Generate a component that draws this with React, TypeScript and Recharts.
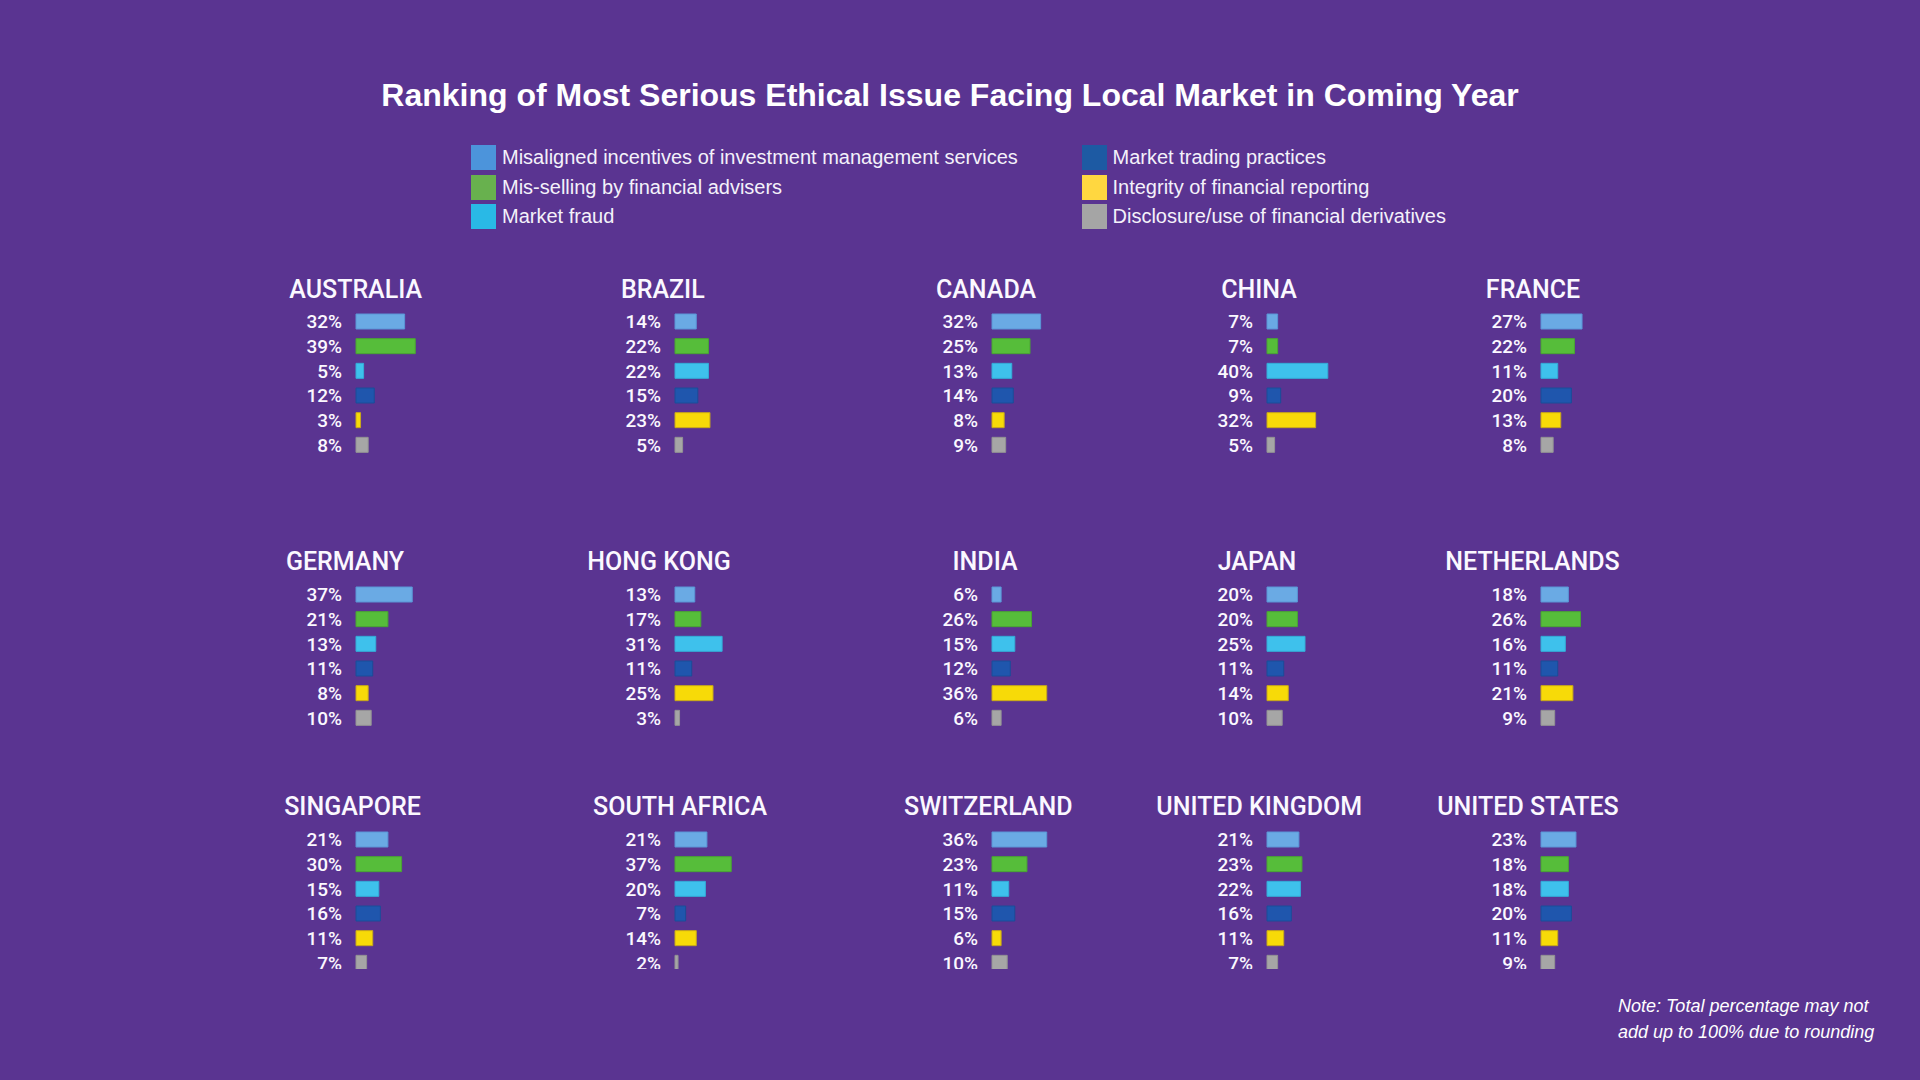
import React from 'react';
import { BarChart, Bar, XAxis, YAxis, Cell, LabelList } from 'recharts';

// Issues, in the order the bars are stacked in every panel
const ISSUES = [
  'Misaligned incentives of investment management services',
  'Mis-selling by financial advisers',
  'Market fraud',
  'Market trading practices',
  'Integrity of financial reporting',
  'Disclosure/use of financial derivatives',
];

// Share (%) naming each issue as most serious, per market
const AUSTRALIA = [32, 39, 5, 12, 3, 8];
const BRAZIL = [14, 22, 22, 15, 23, 5];
const CANADA = [32, 25, 13, 14, 8, 9];
const CHINA = [7, 7, 40, 9, 32, 5];
const FRANCE = [27, 22, 11, 20, 13, 8];
const GERMANY = [37, 21, 13, 11, 8, 10];
const HONG_KONG = [13, 17, 31, 11, 25, 3];
const INDIA = [6, 26, 15, 12, 36, 6];
const JAPAN = [20, 20, 25, 11, 14, 10];
const NETHERLANDS = [18, 26, 16, 11, 21, 9];
const SINGAPORE = [21, 30, 15, 16, 11, 7];
const SOUTH_AFRICA = [21, 37, 20, 7, 14, 2];
const SWITZERLAND = [36, 23, 11, 15, 6, 10];
const UNITED_KINGDOM = [21, 23, 22, 16, 11, 7];
const UNITED_STATES = [23, 18, 18, 20, 11, 9];

const COUNTRIES: Array<[string, number[]]> = [
  ['AUSTRALIA', AUSTRALIA],
  ['BRAZIL', BRAZIL],
  ['CANADA', CANADA],
  ['CHINA', CHINA],
  ['FRANCE', FRANCE],
  ['GERMANY', GERMANY],
  ['HONG KONG', HONG_KONG],
  ['INDIA', INDIA],
  ['JAPAN', JAPAN],
  ['NETHERLANDS', NETHERLANDS],
  ['SINGAPORE', SINGAPORE],
  ['SOUTH AFRICA', SOUTH_AFRICA],
  ['SWITZERLAND', SWITZERLAND],
  ['UNITED KINGDOM', UNITED_KINGDOM],
  ['UNITED STATES', UNITED_STATES],
];

// colours
const BG = '#5a3491';
const BAR_COLORS = ['#6aaae4', '#56bd3a', '#3ec1ec', '#1f56ad', '#f7da08', '#a6a6a6'];
const BAR_EDGES = ['#5a95d6', '#4aa533', '#34acd8', '#1b4c98', '#c9a91a', '#939393'];
const LEGEND_COLORS = ['#4c94db', '#68b14e', '#29b9e6', '#1d5aa3', '#ffd740', '#a5a5a5'];

// layout
const LABEL_W = 80;
const PLOT_W = 152; // 100% = 152px
const PANEL_H = 148;
const COL_X = [356, 675, 991.5, 1266.5, 1540.5]; // where the bars start
const ROW_Y = [309.2, 581.9, 826.9];
const CLIP_Y = 969.5; // the bottom row is cut off in the original
const TITLE_CX = [355.7, 662.8, 986, 1259, 1533, 345, 659, 985, 1257, 1532.5, 352.5, 680, 988.3, 1259.2, 1528];

const Panel = ({ name, values, x, y, titleCx }: { name: string; values: number[]; x: number; y: number; titleCx: number }) => {
  const data = ISSUES.map((issue, i) => ({ issue, value: values[i] }));
  const clipH = Math.min(PANEL_H, CLIP_Y - y);
  return (
    <>
      <div
        style={{
          position: 'absolute',
          left: titleCx,
          top: y - 34.6,
          transform: 'translateX(-50%)',
          whiteSpace: 'nowrap',
          fontFamily: 'Roboto',
          fontWeight: 500,
          fontSize: 25,
          lineHeight: 'normal',
          color: '#fbf8ff',
        }}
      >
        {name}
      </div>
      <div style={{ position: 'absolute', left: x - LABEL_W, top: y, width: LABEL_W + PLOT_W, height: clipH, overflow: 'hidden' }}>
        <BarChart
          width={LABEL_W + PLOT_W}
          height={PANEL_H}
          data={data}
          layout="vertical"
          margin={{ top: 0, right: 0, bottom: 0, left: LABEL_W }}
        >
          <XAxis type="number" domain={[0, 100]} hide />
          <YAxis type="category" dataKey="issue" hide />
          <Bar dataKey="value" barSize={15} isAnimationActive={false}>
            {data.map((d, i) => (
              <Cell key={d.issue} fill={BAR_COLORS[i]} stroke={BAR_EDGES[i]} strokeWidth={1} />
            ))}
            <LabelList
              dataKey="value"
              position="left"
              offset={14}
              formatter={(v: any) => `${v}%`}
              fill="#fbf8ff"
              fontFamily="Roboto"
              fontWeight={500}
              fontSize={19}
            />
          </Bar>
        </BarChart>
      </div>
    </>
  );
};

export default function App() {
  return (
    <div
      style={{
        position: 'absolute',
        left: 0,
        top: 0,
        width: 1920,
        height: 1080,
        background: BG,
        overflow: 'hidden',
      }}
    >
      <div
        style={{
          position: 'absolute',
          left: 950,
          top: 77,
          transform: 'translateX(-50%)',
          whiteSpace: 'nowrap',
          fontFamily: '"Liberation Sans", Arial, sans-serif',
          fontWeight: 700,
          fontSize: 32,
          lineHeight: 'normal',
          color: '#ffffff',
        }}
      >
        Ranking of Most Serious Ethical Issue Facing Local Market in Coming Year
      </div>

      {ISSUES.map((issue, i) => (
        <div
          key={issue}
          style={{
            position: 'absolute',
            left: i < 3 ? 471 : 1081.5,
            top: 145 + (i % 3) * 29.5,
            height: 25,
            display: 'flex',
            alignItems: 'center',
            whiteSpace: 'nowrap',
            fontFamily: '"Liberation Sans", Arial, sans-serif',
            fontSize: 20,
            color: '#f4f1fa',
          }}
        >
          <span style={{ width: 25, height: 25, background: LEGEND_COLORS[i], marginRight: 6, display: 'inline-block' }} />
          {issue}
        </div>
      ))}

      {COUNTRIES.map(([name, values], i) => (
        <Panel
          key={name}
          name={name}
          values={values}
          x={COL_X[i % 5]}
          y={ROW_Y[Math.floor(i / 5)]}
          titleCx={TITLE_CX[i]}
        />
      ))}

      <div
        style={{
          position: 'absolute',
          left: 1618,
          top: 992.5,
          whiteSpace: 'nowrap',
          fontFamily: '"Liberation Sans", Arial, sans-serif',
          fontStyle: 'italic',
          fontSize: 18,
          lineHeight: '26px',
          color: '#ffffff',
        }}
      >
        Note: Total percentage may not
        <br />
        add up to 100% due to rounding
      </div>
    </div>
  );
}
